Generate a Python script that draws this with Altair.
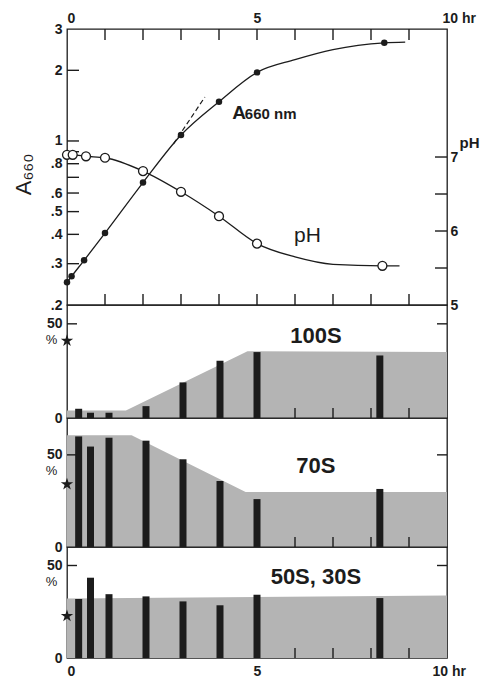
import altair as alt
import pandas as pd

FONT = "Liberation Sans"
INK = "#1c1c1c"
GREY = "#b4b4b4"

# ---------------- growth panel ----------------
a660_hours = [0.0, 0.12, 0.45, 1.0, 2.0, 3.0, 4.0, 5.0, 8.35]
a660_values = [0.25, 0.265, 0.31, 0.405, 0.665, 1.06, 1.47, 1.96, 2.62]
a660_curve_hours = [0.0, 0.12, 0.45, 1.0, 2.0, 3.0, 4.0, 5.0, 6.0, 7.0, 8.35, 8.9]
a660_curve_values = [0.25, 0.265, 0.31, 0.405, 0.665, 1.06, 1.47, 1.96, 2.22, 2.45, 2.62, 2.64]
a660_dash_hours = [2.8, 3.63]
a660_dash_values = [0.97, 1.54]

ph_hours = [0.0, 0.15, 0.5, 1.0, 2.0, 3.0, 4.0, 5.0, 8.3]
ph_values = [7.03, 7.03, 7.01, 6.99, 6.81, 6.53, 6.20, 5.83, 5.53]
ph_curve_hours = [0.0, 0.15, 0.5, 1.0, 2.0, 3.0, 4.0, 5.0, 6.0, 7.0, 8.3, 8.75]
ph_curve_values = [7.03, 7.03, 7.01, 6.99, 6.81, 6.53, 6.20, 5.83, 5.65, 5.55, 5.53, 5.53]

HOUR_DOMAIN = [0, 10]
A660_DOMAIN = [0.2, 3]
PH_DOMAIN = [5, 8.73]

inner_hour_ticks = [1, 2, 3, 4, 5, 6, 7, 8, 9]
a660_ticks = [0.3, 0.4, 0.5, 0.6, 0.7, 0.8, 0.9, 1, 2]
a660_labels = [0.2, 0.3, 0.4, 0.5, 0.6, 0.8, 1, 2, 3]
ph_ticks = [5.5, 6, 6.5, 7]
ph_labels = [5, 6, 7]

# ---------------- ribosome panels ----------------
bar_hours = [0.18, 0.5, 1.0, 2.0, 3.0, 4.0, 5.0, 8.32]
s100_bars = [4.9, 2.8, 2.8, 6.3, 18.9, 30.4, 35.0, 33.2]
s70_bars = [60.0, 54.5, 59.3, 57.7, 47.6, 35.8, 26.0, 31.5]
s50_bars = [31.9, 43.4, 34.5, 33.3, 30.6, 28.5, 34.2, 32.4]

s100_band_hours = [0, 1.55, 4.75, 10]
s100_band = [4, 4, 35.5, 35]
s70_band_hours = [0, 1.7, 4.7, 10]
s70_band = [60.7, 60.7, 29.8, 29.8]
s50_band_hours = [0, 10]
s50_band = [32.2, 33.8]

star_values = [41, 34, 22.7]
panel_names = ["100S", "70S", "50S, 30S"]
panel_max = [60, 70, 60]
panel_heights = [113, 129, 111]
pct_labels = [0, 50]
pct_ticks = [50]
panel_hour_ticks = [6, 7, 8, 9]

W = 380
TOP_H = 276
STAR = ("M0,-1L0.2245,-0.309L0.951,-0.309L0.363,0.118L0.588,0.809L0,0.382"
        "L-0.588,0.809L-0.363,0.118L-0.951,-0.309L-0.2245,-0.309Z")

lab = dict(labelFont=FONT, labelFontSize=14, labelFontWeight="bold", labelColor=INK,
           ticks=False, domain=False, grid=False, zindex=1)


def XS():
    return alt.Scale(domain=HOUR_DOMAIN, nice=False, zero=False)


def AS():
    return alt.Scale(type="log", domain=A660_DOMAIN, nice=False)


def PS():
    return alt.Scale(domain=PH_DOMAIN, nice=False, zero=False)


def X(axis=None):
    return alt.X("h:Q", scale=XS(), axis=axis)


def vtick(df, y, offset, size=11):
    return alt.Chart(df).mark_tick(orient="vertical", size=size, thickness=1.4, color=INK,
                                   yOffset=offset, opacity=1).encode(x=X(), y=y)


def htick(df, y, offset, size=12):
    return alt.Chart(df).mark_tick(orient="horizontal", size=size, thickness=1.4, color=INK,
                                   xOffset=offset, opacity=1).encode(x=X(), y=y)


# ---------------- top panel ----------------
df_a = pd.DataFrame({"h": a660_hours, "v": a660_values})
df_ac = pd.DataFrame({"h": a660_curve_hours, "v": a660_curve_values})
df_ad = pd.DataFrame({"h": a660_dash_hours, "v": a660_dash_values})
df_p = pd.DataFrame({"h": ph_hours, "p": ph_values})
df_pc = pd.DataFrame({"h": ph_curve_hours, "p": ph_curve_values})

ax_top = alt.Axis(orient="top", values=[0, 5], title=None, labelPadding=4, format="d", **lab)
ax_top10 = alt.Axis(orient="top", values=[10], title=None, labelPadding=4, labelAlign="left",
                    labelOffset=-5, labelExpr="'10 hr'", **lab)

y_a = alt.Y("v:Q", scale=AS(), axis=alt.Axis(
    orient="left", values=a660_labels, labelPadding=5,
    labelExpr="datum.value<1?replace(format(datum.value,'.1f'),'0.','.'):format(datum.value,'d')",
    title="A₆₆₀", titleFont=FONT, titleFontSize=22, titleFontWeight="normal",
    titleColor=INK, titleAngle=-90, titleX=-44, titleY=145, titleAlign="center",
    titleBaseline="middle", **lab))
y_p = alt.Y("p:Q", scale=PS(), axis=alt.Axis(
    orient="right", values=ph_labels, labelPadding=3, format="d",
    title="pH", titleFont=FONT, titleFontSize=15, titleFontWeight="bold",
    titleColor=INK, titleAngle=0, titleX=22, titleY=113, titleAlign="center",
    titleBaseline="middle", **lab))


def YA():
    return alt.Y("v:Q", scale=AS(), axis=None)


def YP():
    return alt.Y("p:Q", scale=PS(), axis=None)


a_line = alt.Chart(df_ac).mark_line(interpolate="monotone", color=INK, strokeWidth=1.3).encode(
    x=X(ax_top), y=y_a)
a_dash = alt.Chart(df_ad).mark_line(color=INK, strokeWidth=1.2, strokeDash=[5, 3]).encode(
    x=X(ax_top10), y=YA())
a_pts = alt.Chart(df_a).mark_point(filled=True, size=42, color=INK, opacity=1).encode(x=X(), y=YA())
a_lab1 = alt.Chart(pd.DataFrame({"h": [4.35], "v": [1.245], "t": ["A"]})).mark_text(
    font=FONT, fontSize=19, fontWeight="bold", color=INK, align="left", baseline="alphabetic"
).encode(x=X(), y=YA(), text="t:N")
a_lab2 = alt.Chart(pd.DataFrame({"h": [4.68], "v": [1.245], "t": ["660 nm"]})).mark_text(
    font=FONT, fontSize=15, fontWeight="bold", color=INK, align="left", baseline="alphabetic"
).encode(x=X(), y=YA(), text="t:N")

p_line = alt.Chart(df_pc).mark_line(interpolate="monotone", color=INK, strokeWidth=1.3).encode(
    x=X(), y=y_p)
p_pts = alt.Chart(df_p).mark_point(shape="circle", fill="white", fillOpacity=1, stroke=INK,
                                    strokeWidth=1.3, size=80, opacity=1).encode(x=X(), y=YP())
p_lab = alt.Chart(pd.DataFrame({"h": [6.33], "p": [5.85], "t": ["pH"]})).mark_text(
    font=FONT, fontSize=21, color=INK, align="center", baseline="alphabetic"
).encode(x=X(), y=YP(), text="t:N")

t_top = vtick(pd.DataFrame({"h": inner_hour_ticks, "v": [float(A660_DOMAIN[1])] * 9}), YA(), 5.5)
t_bot = vtick(pd.DataFrame({"h": inner_hour_ticks, "v": [float(A660_DOMAIN[0])] * 9}), YA(), -5.5)
t_left = htick(pd.DataFrame({"h": [float(HOUR_DOMAIN[0])] * len(a660_ticks), "v": a660_ticks}), YA(), 6)
t_right = htick(pd.DataFrame({"h": [float(HOUR_DOMAIN[1])] * len(ph_ticks), "p": ph_ticks}), YP(), -6)

top = alt.layer(t_top, t_bot, t_left, t_right, a_line, a_dash, a_pts, a_lab1, a_lab2,
                p_line, p_pts, p_lab).resolve_scale(
    x="independent", y="independent").resolve_axis(
    x="independent", y="independent").properties(width=W, height=TOP_H)

# ---------------- ribosome panels ----------------
bars_all = [s100_bars, s70_bars, s50_bars]
band_hours_all = [s100_band_hours, s70_band_hours, s50_band_hours]
band_all = [s100_band, s70_band, s50_band]


def panel(i):
    ymax = panel_max[i]
    h = panel_heights[i]

    def Y(axis=None):
        return alt.Y("y:Q", scale=alt.Scale(domain=[0, ymax], nice=False, zero=True), axis=axis)

    last = i == 2
    xa = alt.Axis(orient="bottom", values=[0, 5], title=None, labelPadding=6, format="d",
                  **lab) if last else None
    xa10 = alt.Axis(orient="bottom", values=[10], title=None, labelPadding=6, labelAlign="left",
                    labelOffset=-10, labelExpr="'10 hr'", **lab) if last else None
    y_left = Y(alt.Axis(
        orient="left", values=pct_labels, labelPadding=5, format="d",
        title="%", titleFont=FONT, titleFontSize=13, titleFontWeight="normal", titleColor=INK,
        titleAngle=0, titleX=-16, titleY=h * (1 - 50 / ymax) + 16, titleAlign="center",
        titleBaseline="middle", **lab))

    band = alt.Chart(pd.DataFrame({"h": band_hours_all[i], "y": band_all[i]})).mark_area(
        color=GREY, opacity=1, interpolate="linear").encode(x=X(xa), y=y_left)
    bars = alt.Chart(pd.DataFrame({"h": bar_hours, "y": bars_all[i]})).mark_bar(
        color=INK, size=7).encode(x=X(xa10), y=Y())
    star = alt.Chart(pd.DataFrame({"h": [float(HOUR_DOMAIN[0])], "y": [star_values[i]]})).mark_point(
        shape=STAR, filled=True, size=170, color=INK, opacity=1).encode(x=X(), y=Y())
    name = alt.Chart(pd.DataFrame({"h": [6.55], "y": [40], "t": [panel_names[i]]})).mark_text(
        font=FONT, fontSize=22, fontWeight="bold", color=INK, align="center",
        baseline="alphabetic").encode(x=X(), y=Y(), text="t:N")
    tb = vtick(pd.DataFrame({"h": panel_hour_ticks, "y": [0.0] * len(panel_hour_ticks)}), Y(), -5, size=10)
    tl = htick(pd.DataFrame({"h": [float(HOUR_DOMAIN[0])], "y": pct_ticks}), Y(), 5, size=10)
    tr = htick(pd.DataFrame({"h": [float(HOUR_DOMAIN[1])], "y": pct_ticks}), Y(), -5, size=10)
    return alt.layer(band, bars, tb, tl, tr, star, name).resolve_scale(
        x="independent", y="independent").resolve_axis(
        x="independent", y="independent").properties(width=W, height=h)


chart = alt.vconcat(top, panel(0), panel(1), panel(2), spacing=0, bounds="flush").resolve_scale(
    x="independent").properties(
    padding={"left": 3, "top": 2, "right": 0, "bottom": 0}, background="white"
).configure_view(stroke=INK, strokeWidth=1.3)

chart.save("out.html", embed_options={"renderer": "svg", "actions": False})
